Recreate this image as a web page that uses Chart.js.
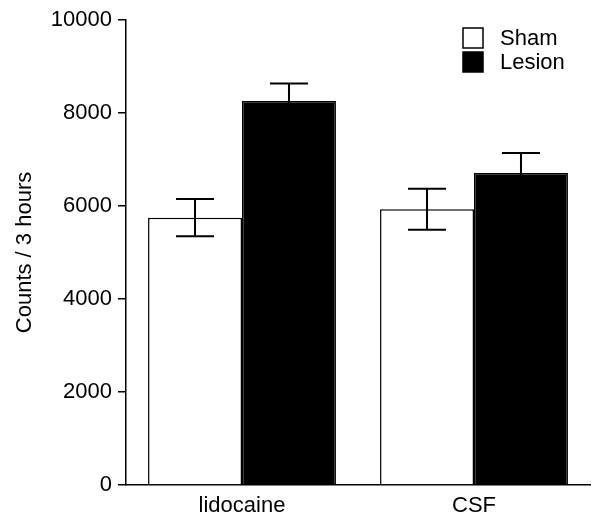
<!DOCTYPE html>
<html>
<head>
    <title>Counts per 3 hours</title>
    <script src="https://cdn.jsdelivr.net/npm/chart.js"></script>
    <style>
        body { margin: 0; background: #fff; }
        #wrap { width: 593px; height: 513px; }
    </style>
</head>
<body>
<div id="wrap"><canvas id="bar-chart"></canvas></div>
<script>
const categories = ['lidocaine', 'CSF'];
const seriesNames = ['Sham', 'Lesion'];
const shamMeans = [5750, 5930];
const shamErrors = [400, 440];
const lesionMeans = [8260, 6710];
const lesionErrors = [375, 430];
const yTicks = [0, 2000, 4000, 6000, 8000, 10000];

const FONT = 'Liberation Sans, Arial, Helvetica, sans-serif';

// error bars drawn from each bar's own position on the scales
const errorBars = {
    id: 'errorBars',
    afterDatasetsDraw(chart) {
        const ctx = chart.ctx;
        const y = chart.scales.y;
        ctx.save();
        ctx.strokeStyle = '#000';
        ctx.lineWidth = 2;
        chart.data.datasets.forEach((ds, i) => {
            chart.getDatasetMeta(i).data.forEach((bar, j) => {
                const v = ds.data[j], e = ds.errors[j];
                const top = y.getPixelForValue(v + e);
                const bot = y.getPixelForValue(v - e);
                const half = 19;
                ctx.beginPath();
                ctx.moveTo(bar.x, top); ctx.lineTo(bar.x, bot);
                ctx.moveTo(bar.x - half, top); ctx.lineTo(bar.x + half, top);
                ctx.moveTo(bar.x - half, bot); ctx.lineTo(bar.x + half, bot);
                ctx.stroke();
            });
        });
        ctx.restore();
    }
};

// stacked legend in the upper right corner
const boxLegend = {
    id: 'boxLegend',
    afterDraw(chart) {
        const ctx = chart.ctx;
        ctx.save();
        ctx.font = '22px ' + FONT;
        ctx.textBaseline = 'middle';
        chart.data.datasets.forEach((ds, i) => {
            const x = 463, yy = 28 + i * 24;
            ctx.fillStyle = ds.backgroundColor;
            ctx.fillRect(x, yy, 20, 20);
            ctx.strokeStyle = '#000';
            ctx.lineWidth = 1.5;
            ctx.strokeRect(x, yy, 20, 20);
            ctx.fillStyle = '#000';
            ctx.fillText(ds.label, 500, yy + 11);
        });
        ctx.restore();
    }
};

new Chart(document.getElementById('bar-chart'), {
    type: 'bar',
    data: {
        labels: categories,
        datasets: [
            { label: seriesNames[0], data: shamMeans, errors: shamErrors, backgroundColor: '#fff', borderColor: '#000', borderWidth: 1.5 },
            { label: seriesNames[1], data: lesionMeans, errors: lesionErrors, backgroundColor: '#000', borderColor: '#000', borderWidth: 1.5 }
        ]
    },
    options: {
        responsive: true,
        maintainAspectRatio: false,
        animation: false,
        layout: { padding: { top: 20, right: 3, left: 0, bottom: 0 } },
        datasets: { bar: { categoryPercentage: 0.81, barPercentage: 1.0 } },
        plugins: { legend: { display: false }, tooltip: { enabled: false } },
        scales: {
            x: {
                grid: { display: false },
                border: { display: true, color: '#000', width: 1.5 },
                ticks: { color: '#000', font: { family: FONT, size: 22 }, padding: 0 },
                afterFit: s => { s.height = 28; }
            },
            y: {
                min: 0, max: 10000,
                afterBuildTicks: s => { s.ticks = yTicks.map(v => ({ value: v })); },
                grid: { drawOnChartArea: false, drawTicks: true, tickLength: 8, color: '#000', lineWidth: 1.5 },
                border: { display: true, color: '#000', width: 1.5 },
                ticks: { color: '#000', font: { family: FONT, size: 22 }, padding: 6, callback: v => String(v) },
                title: { display: true, text: 'Counts / 3 hours', color: '#000', font: { family: FONT, size: 22 }, padding: { top: 12, bottom: 0 } },
                afterFit: s => { s.width = 126; }
            }
        }
    },
    plugins: [errorBars, boxLegend]
});
</script>
</body>
</html>
